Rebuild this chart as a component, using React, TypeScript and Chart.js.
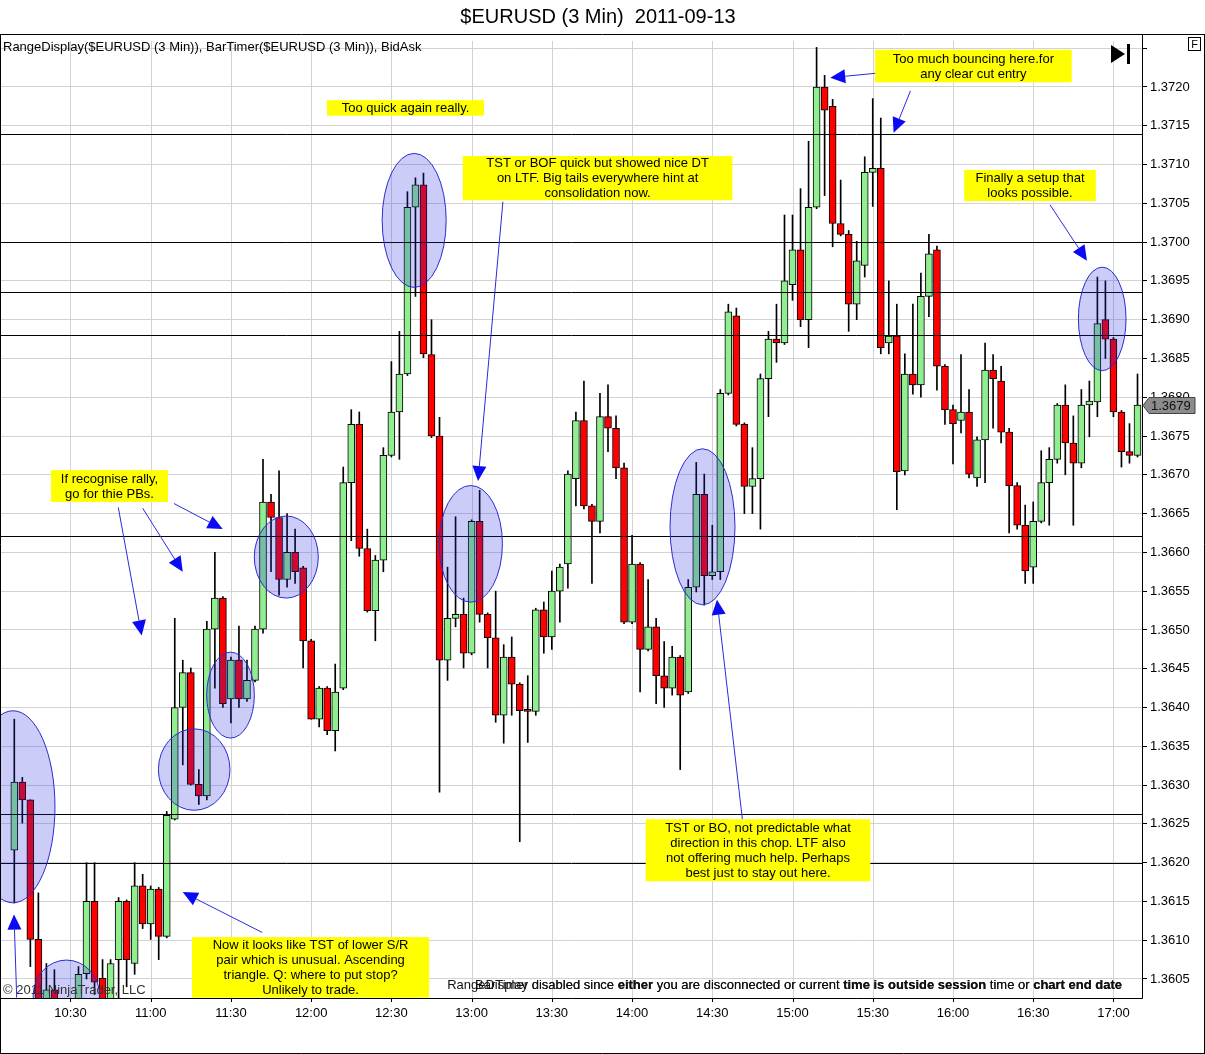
import React, { useEffect, useRef } from "react";
import { Chart, registerables } from "chart.js";

Chart.register(...registerables);

const FONT = "'Liberation Sans', Arial, Helvetica, sans-serif";

// ---- session / bars ----
const SESSION_START_MIN = 10 * 60 + 9; // first bar 10:09
const BAR_MINUTES = 3;

const opens = [
  1.36216, 1.36304, 1.36281, 1.36101, 1.36022, 1.36036, 1.36018, 1.3601, 1.3602, 1.36057,
  1.3615, 1.36051, 1.3602, 1.36075, 1.3615, 1.3607, 1.3617, 1.36121, 1.36166, 1.36105,
  1.36256, 1.364, 1.36445, 1.36301, 1.36286, 1.36501, 1.36541, 1.36411, 1.36461, 1.36411,
  1.36435, 1.36501, 1.36665, 1.36645, 1.36565, 1.366, 1.3658, 1.36486, 1.36385, 1.36425,
  1.3637, 1.36425, 1.3669, 1.36765, 1.36605, 1.36525, 1.3659, 1.36725, 1.36781, 1.3683,
  1.37045, 1.37074, 1.36855, 1.3675, 1.36461, 1.36515, 1.3652, 1.3647, 1.3664, 1.3652,
  1.3649, 1.3639, 1.36465, 1.3643, 1.36396, 1.36395, 1.36526, 1.36491, 1.3655, 1.36585,
  1.36695, 1.3677, 1.3666, 1.3664, 1.36775, 1.3676, 1.36709, 1.3651, 1.36585, 1.36475,
  1.36504, 1.36441, 1.36425, 1.36465, 1.3642, 1.36555, 1.36675, 1.3657, 1.36575, 1.36805,
  1.36905, 1.36765, 1.36685, 1.36695, 1.36824, 1.36875, 1.3687, 1.36945, 1.3699, 1.369,
  1.37045, 1.372, 1.37175, 1.37024, 1.3701, 1.3692, 1.3697, 1.3709, 1.37095, 1.3687,
  1.36879, 1.36705, 1.3683, 1.36816, 1.3693, 1.3699, 1.3684, 1.36784, 1.3677, 1.36781,
  1.36696, 1.36745, 1.36835, 1.36821, 1.36755, 1.36686, 1.36635, 1.36581, 1.3664, 1.3669,
  1.3672, 1.3679, 1.36741, 1.36715, 1.3679, 1.36794, 1.369, 1.36875, 1.36781, 1.3673,
  1.36725,
];
const highs = [
  1.36385, 1.3631, 1.36281, 1.36161, 1.3607, 1.36062, 1.36024, 1.36024, 1.36066, 1.362,
  1.362, 1.36075, 1.36075, 1.36155, 1.36152, 1.362, 1.36185, 1.3617, 1.36168, 1.36266,
  1.36515, 1.36461, 1.36451, 1.3632, 1.36511, 1.366, 1.36543, 1.36465, 1.36505, 1.36461,
  1.36505, 1.3672, 1.36675, 1.36705, 1.3665, 1.3663, 1.36582, 1.36488, 1.36427, 1.36427,
  1.36456, 1.3671, 1.36784, 1.36781, 1.3663, 1.36596, 1.36735, 1.36846, 1.36885, 1.37065,
  1.37083, 1.37089, 1.369, 1.36774, 1.36581, 1.36646, 1.36541, 1.36642, 1.3668, 1.36522,
  1.3655, 1.36481, 1.36491, 1.36432, 1.36441, 1.36528, 1.36536, 1.36576, 1.36585, 1.36705,
  1.36781, 1.36821, 1.36662, 1.36805, 1.36816, 1.36776, 1.36715, 1.36622, 1.36587, 1.36565,
  1.36515, 1.36485, 1.36479, 1.36467, 1.36565, 1.36716, 1.36701, 1.36635, 1.3681, 1.3692,
  1.36915, 1.36767, 1.36735, 1.3683, 1.36885, 1.3692, 1.37035, 1.37035, 1.37069, 1.3713,
  1.37251, 1.37215, 1.37184, 1.3708, 1.37015, 1.37001, 1.3711, 1.37185, 1.3716, 1.3695,
  1.3692, 1.36856, 1.3692, 1.3696, 1.3701, 1.36995, 1.36842, 1.3679, 1.36855, 1.3681,
  1.36749, 1.3687, 1.36855, 1.3684, 1.3676, 1.3669, 1.36661, 1.36665, 1.36731, 1.36735,
  1.36792, 1.36816, 1.36776, 1.3681, 1.36821, 1.36955, 1.3695, 1.36877, 1.36783, 1.36766,
  1.3683,
];
const lows = [
  1.36148, 1.36251, 1.36066, 1.3601, 1.36015, 1.36012, 1.36005, 1.36, 1.3601, 1.3605,
  1.3603, 1.3601, 1.3601, 1.36015, 1.3604, 1.36056, 1.36115, 1.36101, 1.36075, 1.36103,
  1.36255, 1.36326, 1.363, 1.36275, 1.36281, 1.36425, 1.364, 1.3638, 1.364, 1.36408,
  1.36433, 1.36496, 1.36575, 1.36545, 1.36555, 1.3656, 1.36451, 1.36385, 1.36375, 1.36365,
  1.36344, 1.36423, 1.36615, 1.36595, 1.36523, 1.36486, 1.36575, 1.36723, 1.3672, 1.36828,
  1.3693, 1.36851, 1.36748, 1.36291, 1.36435, 1.36504, 1.36451, 1.36468, 1.3651, 1.36451,
  1.36381, 1.36354, 1.3639, 1.36227, 1.36355, 1.3639, 1.3647, 1.36475, 1.3651, 1.36554,
  1.3666, 1.36656, 1.3656, 1.36625, 1.3673, 1.36695, 1.36508, 1.36508, 1.3642, 1.36473,
  1.36405, 1.364, 1.36416, 1.3632, 1.36418, 1.36549, 1.36532, 1.36565, 1.36565, 1.36803,
  1.36763, 1.3665, 1.3665, 1.3663, 1.36775, 1.36845, 1.36868, 1.36925, 1.36891, 1.36864,
  1.37043, 1.3706, 1.36994, 1.37008, 1.36885, 1.369, 1.36955, 1.37046, 1.36856, 1.36856,
  1.36655, 1.367, 1.36804, 1.368, 1.36904, 1.36809, 1.36765, 1.36714, 1.36754, 1.36696,
  1.36685, 1.3669, 1.3676, 1.36741, 1.36625, 1.3663, 1.3656, 1.3656, 1.36638, 1.36635,
  1.36715, 1.367, 1.36635, 1.36709, 1.36749, 1.36775, 1.3685, 1.36775, 1.3671, 1.36715,
  1.36723,
];
const closes = [
  1.36304, 1.36281, 1.36101, 1.3602, 1.36036, 1.3602, 1.3601, 1.3602, 1.36056, 1.3615,
  1.36046, 1.3602, 1.3607, 1.3615, 1.36075, 1.3617, 1.36121, 1.36166, 1.36105, 1.36261,
  1.364, 1.36445, 1.36301, 1.36286, 1.36501, 1.36541, 1.36405, 1.36461, 1.36411, 1.36435,
  1.36501, 1.36665, 1.36645, 1.36565, 1.366, 1.36575, 1.36486, 1.36385, 1.36425, 1.3637,
  1.3642, 1.3669, 1.36765, 1.36605, 1.36525, 1.3659, 1.36725, 1.36781, 1.3683, 1.37045,
  1.37074, 1.36856, 1.3675, 1.36461, 1.36515, 1.3652, 1.3647, 1.3664, 1.3652, 1.3649,
  1.3639, 1.36465, 1.3643, 1.36396, 1.36395, 1.36526, 1.36491, 1.3655, 1.36581, 1.36701,
  1.3677, 1.3666, 1.3664, 1.36775, 1.3676, 1.36709, 1.3651, 1.36585, 1.36475, 1.36504,
  1.36441, 1.36425, 1.36465, 1.36416, 1.36555, 1.36675, 1.3657, 1.36575, 1.36805, 1.3691,
  1.36765, 1.36685, 1.36695, 1.36824, 1.36875, 1.3687, 1.3695, 1.3699, 1.369, 1.37045,
  1.372, 1.3717, 1.37024, 1.3701, 1.3692, 1.36976, 1.3709, 1.37095, 1.36864, 1.36879,
  1.36704, 1.3683, 1.36816, 1.3693, 1.36985, 1.3684, 1.36784, 1.36766, 1.36781, 1.36701,
  1.36745, 1.36835, 1.36824, 1.36755, 1.36686, 1.36635, 1.36576, 1.3664, 1.3669, 1.3672,
  1.3679, 1.36741, 1.36715, 1.3679, 1.36795, 1.36895, 1.36875, 1.36781, 1.3673, 1.36725,
  1.3679,
];

// ---- axes ----
const timeTickBars = [7, 17, 27, 37, 47, 57, 67, 77, 87, 97, 107, 117, 127, 137];
const priceTicks = [
  1.3605, 1.361, 1.3615, 1.362, 1.3625, 1.363, 1.3635, 1.364, 1.3645, 1.365, 1.3655, 1.366,
  1.3665, 1.367, 1.3675, 1.368, 1.3685, 1.369, 1.3695, 1.37, 1.3705, 1.371, 1.3715, 1.372,
  1.3725,
];
const X_MIN = -1.658;
const X_MAX = 140.56;
const Y_MIN = 1.360255;
const Y_MAX = 1.372593;

// ---- drawings (data coordinates: bar index, price) ----
const srLevels = [1.3714, 1.37, 1.36936, 1.3688, 1.36621, 1.36263, 1.362];
const lastPrice = 1.3679;

const circles = [
  { i: -0.16, p: 1.36272, ri: 5.23, rp: 0.001238 },
  { i: 6.5, p: 1.36028, ri: 4.15, rp: 0.000464 },
  { i: 22.42, p: 1.3632, ri: 4.46, rp: 0.000525 },
  { i: 26.95, p: 1.36416, ri: 2.97, rp: 0.000554 },
  { i: 33.9, p: 1.36594, ri: 3.99, rp: 0.000529 },
  { i: 49.84, p: 1.37028, ri: 3.99, rp: 0.000864 },
  { i: 56.89, p: 1.36611, ri: 3.95, rp: 0.000752 },
  { i: 85.78, p: 1.36633, ri: 4.05, rp: 0.001006 },
  { i: 135.6, p: 1.36901, ri: 2.97, rp: 0.000667 },
];

const notes = [
  { i0: 38.98, i1: 58.54, p0: 1.37183, p1: 1.37163, lines: ["Too quick again really."] },
  { i0: 107.3, i1: 131.8, p0: 1.37248, p1: 1.37206, lines: ["Too much bouncing here.for", "any clear cut entry"] },
  {
    i0: 55.9, i1: 89.5, p0: 1.37111, p1: 1.37054,
    lines: ["TST or BOF quick but showed nice DT", "on LTF. Big tails everywhere hint at", "consolidation now."],
  },
  { i0: 118.4, i1: 134.8, p0: 1.37093, p1: 1.37053, lines: ["Finally a setup that", "looks possible."] },
  { i0: 4.57, i1: 19.16, p0: 1.36706, p1: 1.36665, lines: ["If recognise rally,", "go for thie PBs."] },
  {
    i0: 22.15, i1: 51.7, p0: 1.36104, p1: 1.36026,
    lines: [
      "Now it looks like TST of lower S/R",
      "pair which is unusual. Ascending",
      "triangle. Q: where to put stop?",
      "Unlikely to trade.",
    ],
  },
  {
    i0: 78.7, i1: 106.7, p0: 1.36256, p1: 1.36176,
    lines: [
      "TST or BO, not predictable what",
      "direction in this chop. LTF also",
      "not offering much help. Perhaps",
      "best just to stay out here.",
    ],
  },
];

const arrows = [
  { i0: 107.7, p0: 1.37218, i1: 101.7, p1: 1.37212 },
  { i0: 111.7, p0: 1.37195, i1: 109.6, p1: 1.37141 },
  { i0: 60.9, p0: 1.37052, i1: 57.8, p1: 1.36692 },
  { i0: 129.1, p0: 1.37048, i1: 133.7, p1: 1.36976 },
  { i0: 12.96, p0: 1.36658, i1: 15.88, p1: 1.36493 },
  { i0: 16.0, p0: 1.36657, i1: 20.99, p1: 1.36575 },
  { i0: 19.9, p0: 1.36663, i1: 25.97, p1: 1.3663 },
  { i0: 0.3, p0: 1.36026, i1: -0.04, p1: 1.36133 },
  { i0: 30.9, p0: 1.3611, i1: 20.99, p1: 1.36162 },
  { i0: 90.75, p0: 1.36256, i1: 87.58, p1: 1.36539 },
];

const TITLE = "$EURUSD (3 Min)  2011-09-13";
const INDICATORS = "RangeDisplay($EURUSD (3 Min)), BarTimer($EURUSD (3 Min)), BidAsk";
const COPYRIGHT = "\u00a9 2011 NinjaTrader, LLC";
const msgTail: [string, boolean][] = [
  ["disabled since ", false],
  ["either", true],
  [" you are disconnected or current ", false],
  ["time is outside session", true],
  [" time or ", false],
  ["chart end date", true],
];
const msgPrefixes = ["RangeDisplay ", "BarTimer "];

const GREEN = "#90ee90";
const RED = "#ff0000";
const GRID = "#d3d3d3";
const TXT = 13;

function barTimeLabel(i: number): string {
  const m = SESSION_START_MIN + BAR_MINUTES * i;
  const h = Math.floor(m / 60);
  const mm = m % 60;
  return `${h}:${mm < 10 ? "0" + mm : mm}`;
}

const overlayPlugin = {
  id: "overlay",
  beforeDatasetsDraw(chart: any) {
    const { ctx, chartArea: a } = chart;
    const xs = chart.scales.x;
    ctx.save();
    ctx.strokeStyle = GRID;
    ctx.lineWidth = 1;
    ctx.beginPath();
    timeTickBars.forEach((b) => {
      const px = Math.round(xs.getPixelForValue(b)) + 0.5;
      ctx.moveTo(px, a.top);
      ctx.lineTo(px, a.bottom);
    });
    ctx.stroke();
    ctx.restore();
  },
  afterDatasetsDraw(chart: any) {
    const { ctx, chartArea: a } = chart;
    const xs = chart.scales.x;
    const ys = chart.scales.y;
    ctx.save();
    ctx.beginPath();
    ctx.rect(a.left, a.top, a.right - a.left, a.bottom - a.top);
    ctx.clip();

    // support / resistance lines
    ctx.strokeStyle = "#000";
    ctx.lineWidth = 1;
    srLevels.forEach((v) => {
      const py = Math.round(ys.getPixelForValue(v)) + 0.5;
      ctx.beginPath();
      ctx.moveTo(a.left, py);
      ctx.lineTo(a.right, py);
      ctx.stroke();
    });

    // ellipses
    circles.forEach((c) => {
      const cx = xs.getPixelForValue(c.i);
      const cy = ys.getPixelForValue(c.p);
      const rx = xs.getPixelForValue(c.i + c.ri) - cx;
      const ry = cy - ys.getPixelForValue(c.p + c.rp);
      ctx.beginPath();
      ctx.ellipse(cx, cy, rx, ry, 0, 0, Math.PI * 2);
      ctx.fillStyle = "rgba(40,40,225,0.24)";
      ctx.fill();
      ctx.strokeStyle = "#2b2bd0";
      ctx.lineWidth = 1;
      ctx.stroke();
    });

    // arrows
    arrows.forEach((ar) => {
      const x0 = xs.getPixelForValue(ar.i0);
      const y0 = ys.getPixelForValue(ar.p0);
      const x1 = xs.getPixelForValue(ar.i1);
      const y1 = ys.getPixelForValue(ar.p1);
      const ang = Math.atan2(y1 - y0, x1 - x0);
      const len = 15;
      const hw = 7;
      const bx = x1 - Math.cos(ang) * len;
      const by = y1 - Math.sin(ang) * len;
      ctx.strokeStyle = "#2a2ae0";
      ctx.lineWidth = 1;
      ctx.beginPath();
      ctx.moveTo(x0, y0);
      ctx.lineTo(bx, by);
      ctx.stroke();
      ctx.fillStyle = "#0a0af5";
      ctx.beginPath();
      ctx.moveTo(x1, y1);
      ctx.lineTo(bx + Math.sin(ang) * hw, by - Math.cos(ang) * hw);
      ctx.lineTo(bx - Math.sin(ang) * hw, by + Math.cos(ang) * hw);
      ctx.closePath();
      ctx.fill();
    });

    // text notes
    ctx.font = `${TXT}px ${FONT}`;
    ctx.textAlign = "center";
    ctx.textBaseline = "middle";
    notes.forEach((n) => {
      const x0 = xs.getPixelForValue(n.i0);
      const x1 = xs.getPixelForValue(n.i1);
      const y0 = ys.getPixelForValue(n.p0);
      const y1 = ys.getPixelForValue(n.p1);
      ctx.fillStyle = "#ffff00";
      ctx.fillRect(x0, y0, x1 - x0, y1 - y0);
      ctx.fillStyle = "#000";
      const cx = (x0 + x1) / 2;
      const cy = (y0 + y1) / 2;
      const lh = 15;
      n.lines.forEach((t, k) => {
        ctx.fillText(t, cx, cy + (k - (n.lines.length - 1) / 2) * lh + 0.5);
      });
    });

    // copyright
    ctx.textAlign = "left";
    ctx.textBaseline = "alphabetic";
    ctx.fillStyle = "#333";
    ctx.font = `${TXT}px ${FONT}`;
    ctx.fillText(COPYRIGHT, a.left + 2, a.bottom - 4);

    // disabled messages (right-aligned, overlapping)
    const rightEdge = 1122;
    msgPrefixes.forEach((pre) => {
      const segs: [string, boolean][] = [[pre, false], ...msgTail];
      let total = 0;
      segs.forEach(([t, b]) => {
        ctx.font = `${b ? "bold " : ""}${TXT}px ${FONT}`;
        total += ctx.measureText(t).width;
      });
      let xx = rightEdge - total;
      segs.forEach(([t, b]) => {
        ctx.font = `${b ? "bold " : ""}${TXT}px ${FONT}`;
        ctx.fillStyle = "#111";
        ctx.fillText(t, xx, a.bottom - 9);
        xx += ctx.measureText(t).width;
      });
    });

    ctx.restore();
  },
  afterDraw(chart: any) {
    const { ctx, chartArea: a, width, height } = chart;
    const xs = chart.scales.x;
    const ys = chart.scales.y;
    ctx.save();
    ctx.strokeStyle = "#000";
    ctx.lineWidth = 1;
    const top = 34.5;
    ctx.beginPath();
    // outer frame
    ctx.moveTo(0, top);
    ctx.lineTo(width, top);
    ctx.moveTo(0.5, top);
    ctx.lineTo(0.5, height);
    ctx.moveTo(width - 0.5, top);
    ctx.lineTo(width - 0.5, height);
    ctx.moveTo(0, height - 0.5);
    ctx.lineTo(width, height - 0.5);
    // plot bottom and y axis line
    ctx.moveTo(0, a.bottom + 0.5);
    ctx.lineTo(a.right + 0.5, a.bottom + 0.5);
    ctx.moveTo(a.right + 0.5, top);
    ctx.lineTo(a.right + 0.5, a.bottom + 0.5);
    // time tick marks
    timeTickBars.forEach((b) => {
      const px = Math.round(xs.getPixelForValue(b)) + 0.5;
      ctx.moveTo(px, a.bottom);
      ctx.lineTo(px, a.bottom + 4);
    });
    ctx.stroke();

    // title
    ctx.fillStyle = "#000";
    ctx.font = `20px ${FONT}`;
    ctx.textAlign = "center";
    ctx.textBaseline = "middle";
    ctx.fillText(TITLE, 598, 17);

    // indicator list
    ctx.font = `${TXT}px ${FONT}`;
    ctx.textAlign = "left";
    ctx.fillText(INDICATORS, 3, 47);

    // "go to end" glyph
    ctx.beginPath();
    ctx.moveTo(1111, 45);
    ctx.lineTo(1125, 54);
    ctx.lineTo(1111, 63);
    ctx.closePath();
    ctx.fill();
    ctx.fillRect(1127, 44, 3, 20);

    // F box
    ctx.strokeRect(1188.5, 37.5, 12, 13);
    ctx.font = `11px ${FONT}`;
    ctx.textAlign = "center";
    ctx.fillText("F", 1194.5, 44.5);

    // last price marker
    const py = Math.round(ys.getPixelForValue(lastPrice)) + 0.5;
    const x0 = a.right + 1;
    ctx.beginPath();
    ctx.moveTo(x0, py);
    ctx.lineTo(x0 + 6, py - 8);
    ctx.lineTo(1195, py - 8);
    ctx.lineTo(1195, py + 8);
    ctx.lineTo(x0 + 6, py + 8);
    ctx.closePath();
    ctx.fillStyle = "#8c8c8c";
    ctx.fill();
    ctx.strokeStyle = "#444";
    ctx.stroke();
    ctx.fillStyle = "#111";
    ctx.font = `${TXT}px ${FONT}`;
    ctx.textAlign = "left";
    ctx.fillText(lastPrice.toFixed(4), x0 + 8, py + 0.5);
    ctx.restore();
  },
};

export default function App() {
  const ref = useRef<HTMLCanvasElement | null>(null);

  useEffect(() => {
    if (!ref.current) return;
    const bodyData = opens.map((o, i) => ({ x: i, y: [o, closes[i]] }));
    const wickData = lows.map((l, i) => ({ x: i, y: [l, highs[i]] }));
    const bodyColors = opens.map((o, i) => (closes[i] >= o ? GREEN : RED));

    const chart = new Chart(ref.current, {
      type: "bar",
      data: {
        datasets: [
          {
            label: "body",
            data: bodyData as any,
            backgroundColor: bodyColors,
            borderColor: "#000",
            borderWidth: 1,
            borderSkipped: false,
            barThickness: 7,
            minBarLength: 2,
            grouped: false,
            order: 1,
            clip: 0,
          } as any,
          {
            label: "wick",
            data: wickData as any,
            backgroundColor: "#000",
            borderWidth: 0,
            barThickness: 1,
            grouped: false,
            order: 2,
            clip: 0,
          } as any,
        ],
      },
      options: {
        animation: false,
        responsive: false,
        maintainAspectRatio: false,
        devicePixelRatio: 1,
        events: [],
        layout: { padding: { left: 1, top: 41, right: 0, bottom: 0 } },
        plugins: {
          legend: { display: false },
          tooltip: { enabled: false },
          title: { display: false },
        },
        scales: {
          x: {
            type: "linear",
            min: X_MIN,
            max: X_MAX,
            offset: false,
            border: { display: false },
            grid: { display: false, offset: false, drawTicks: true, tickLength: 4 },
            ticks: {
              autoSkip: false,
              maxRotation: 0,
              padding: 4,
              color: "#000",
              font: { family: FONT, size: TXT },
              callback: (v: any) => barTimeLabel(Number(v)),
            },
            afterBuildTicks: (s: any) => {
              s.ticks = timeTickBars.map((v) => ({ value: v }));
            },
            afterFit: (s: any) => {
              s.height = 56;
            },
          },
          y: {
            type: "linear",
            position: "right",
            min: Y_MIN,
            max: Y_MAX,
            border: { display: false },
            grid: { color: GRID, tickColor: "#000", tickLength: 5, drawTicks: true, offset: false },
            ticks: {
              autoSkip: false,
              padding: 3,
              color: "#000",
              font: { family: FONT, size: TXT },
              callback: (v: any) => (Number(v) > 1.3722 ? "" : Number(v).toFixed(4)),
            },
            afterBuildTicks: (s: any) => {
              s.ticks = priceTicks.map((v) => ({ value: v }));
            },
            afterFit: (s: any) => {
              s.width = 63;
            },
          },
        },
      } as any,
      plugins: [overlayPlugin],
    });
    return () => chart.destroy();
  }, []);

  return (
    <div style={{ position: "fixed", left: 0, top: 0, width: 1205, height: 1054, background: "#fff" }}>
      <canvas ref={ref} width={1205} height={1054} style={{ display: "block" }} />
    </div>
  );
}
